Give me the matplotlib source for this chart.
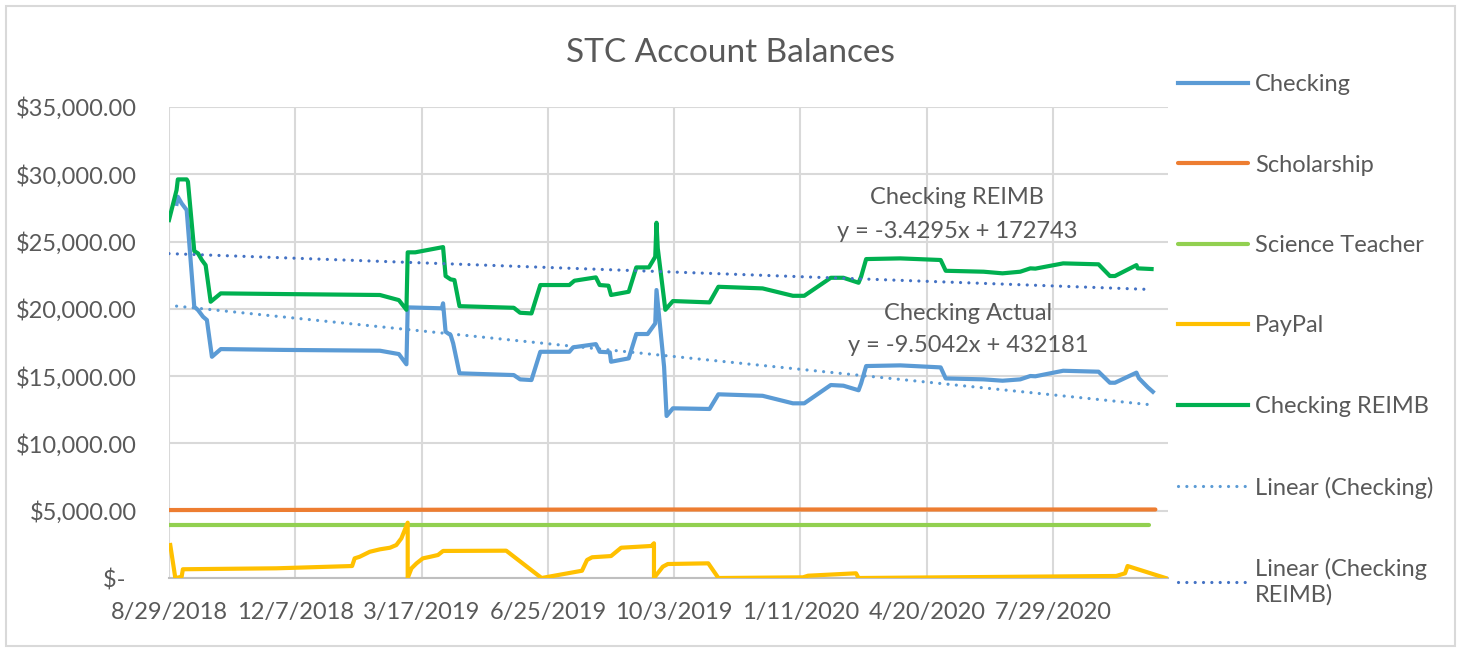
import numpy as np
import pandas as pd
import matplotlib
matplotlib.use('Agg')
import matplotlib.pyplot as plt
from matplotlib.ticker import FixedLocator, FuncFormatter
from matplotlib.patches import Rectangle

plt.rcParams['font.family'] = ['Lato', 'DejaVu Sans']

# Account balances, x = days after the first statement date
start = pd.Timestamp('2018-08-29')

checking_days = [6, 7, 10, 14, 20, 23, 27, 30, 34, 41, 90, 167, 182, 188, 189,
                 216, 217, 219, 223, 225, 230, 273, 278, 287, 294, 317, 320,
                 338, 341, 349, 350, 364, 370, 379, 385, 386, 392, 394, 399,
                 428, 435, 470, 494, 503, 524, 534, 546, 548, 552, 579, 611,
                 615, 645, 660, 674, 682, 686, 708, 736, 745, 749, 766, 768,
                 775, 779]
checking_vals = [27800, 28330, 27840, 27340, 20160, 19910, 19410, 19170, 16440,
                 17010, 16950, 16890, 16640, 15880, 20110, 20040, 20410, 18300,
                 18050, 17440, 15210, 15080, 14760, 14710, 16810, 16810, 17140,
                 17380, 16810, 16770, 16070, 16320, 18130, 18130, 18920, 21400,
                 15700, 12040, 12610, 12560, 13650, 13540, 12980, 12980, 14340,
                 14290, 13950, 14460, 15750, 15800, 15650, 14830, 14760, 14660,
                 14760, 15010, 14990, 15400, 15330, 14510, 14510, 15260, 14840,
                 14170, 13840]

reimb_days = [0, 6, 7, 14, 15, 20, 23, 26, 29, 33, 41, 90, 167, 182, 188, 189,
              195, 217, 219, 223, 226, 230, 273, 278, 287, 294, 317, 321, 338,
              341, 348, 350, 364, 370, 380, 385, 386, 387, 393, 399, 428, 435,
              470, 494, 503, 524, 534, 546, 548, 552, 579, 611, 615, 645, 660,
              674, 682, 686, 708, 736, 745, 749, 766, 767, 778]
reimb_vals = [26600, 28830, 29620, 29620, 29450, 24300, 24120, 23630, 23250,
              20530, 21150, 21100, 21030, 20650, 19930, 24200, 24200, 24590,
              22440, 22190, 22140, 20200, 20080, 19710, 19660, 21770, 21770,
              22090, 22340, 21770, 21720, 21030, 21270, 23080, 23080, 23870,
              26400, 24500, 19930, 20580, 20480, 21640, 21520, 20970, 20970,
              22310, 22310, 21940, 22390, 23700, 23750, 23630, 22830, 22760,
              22640, 22760, 23010, 22990, 23380, 23310, 22440, 22440, 23250,
              23010, 22960]

paypal_days = [1, 5, 8, 10, 11, 85, 145, 147, 151, 159, 167, 175, 180, 184, 189,
               189, 192, 196, 201, 207, 213, 217, 267, 295, 327, 331, 335, 350,
               358, 382, 384, 384, 391, 395, 427, 435, 502, 506, 544, 546, 750,
               757, 759, 789]
paypal_vals = [2450, 0, 50, 100, 650, 720, 890, 1460, 1580, 1950, 2130, 2250,
               2450, 2950, 4110, 0, 720, 1090, 1460, 1580, 1710, 2010, 2030, 0,
               540, 1340, 1540, 1630, 2250, 2380, 2580, 0, 840, 1040, 1090, 0,
               50, 170, 350, 0, 150, 350, 890, 0]

scholarship_days = [0, 389, 781]
scholarship_vals = [5050, 5090, 5090]

teacher_days = [0, 776]
teacher_vals = [3920, 3920]

# Excel linear trendlines (x = Excel serial date)
checking_trend = (-9.5042, 432181)
reimb_trend = (-3.4295, 172743)

y_ticks = [0, 5000, 10000, 15000, 20000, 25000, 30000, 35000]


def to_dates(days):
    return start + pd.to_timedelta(days, unit='D')


def excel_serial(dates):
    return (dates - pd.Timestamp('1899-12-30')).days.values


text_color = '#595959'
grid_color = '#d9d9d9'
fs = 17

fig = plt.figure(figsize=(14.6, 6.52), dpi=100)
ax = fig.add_axes([169 / 1460, 1 - 578 / 652, (1168 - 169) / 1460, (578 - 107) / 652])

lw = 3.0
ax.plot(to_dates(checking_days), checking_vals, color='#5b9bd5', lw=lw,
        label='Checking', solid_joinstyle='round', zorder=3)
ax.plot(to_dates(scholarship_days), scholarship_vals, color='#ed7d31', lw=lw,
        label='Scholarship', solid_capstyle='round', zorder=3)
ax.plot(to_dates(teacher_days), teacher_vals, color='#92d050', lw=lw,
        label='Science Teacher', solid_capstyle='round', zorder=3)
ax.plot(to_dates(paypal_days), paypal_vals, color='#ffc000', lw=lw,
        label='PayPal', solid_joinstyle='round', zorder=3)
ax.plot(to_dates(reimb_days), reimb_vals, color='#00b050', lw=lw,
        label='Checking REIMB', solid_joinstyle='round', zorder=3)

# trendlines over each series' date range
for days, (m, b), color, label in [
        (checking_days, checking_trend, '#5b9bd5', 'Linear (Checking)'),
        (reimb_days, reimb_trend, '#4472c4', 'Linear (Checking\nREIMB)')]:
    d = to_dates([days[0], days[-1] - 3])
    ax.plot(d, m * excel_serial(d) + b, color=color, lw=2.3,
            linestyle=(0, (0.01, 2.6)), dash_capstyle='round', label=label,
            zorder=4)

ax.set_xlim(to_dates([0])[0], to_dates([791])[0])
ax.set_ylim(0, 35000)

x_ticks = to_dates(list(range(0, 791, 100)))
ax.xaxis.set_major_locator(FixedLocator(matplotlib.dates.date2num(x_ticks)))
ax.xaxis.set_major_formatter(FuncFormatter(
    lambda v, pos: '{d.month}/{d.day}/{d.year}'.format(d=matplotlib.dates.num2date(v))))
ax.set_yticks(y_ticks)
ax.yaxis.set_major_formatter(FuncFormatter(
    lambda v, pos: '$-  ' if v == 0 else '${:,.2f}'.format(v)))

ax.grid(True, color=grid_color, lw=1.5)
ax.set_axisbelow(True)
for s in ['top', 'right', 'left']:
    ax.spines[s].set_visible(False)
ax.spines['bottom'].set_color('#bfbfbf')
ax.spines['bottom'].set_linewidth(1.5)
ax.tick_params(axis='both', length=0, labelsize=fs, labelcolor=text_color)
ax.tick_params(axis='x', pad=17)
ax.tick_params(axis='y', pad=23)

fig.text(0.5, 1 - 53 / 652, 'STC Account Balances', ha='center', va='center',
         fontsize=24, color=text_color)

# trendline equation labels
ax.text(957 / 1460, 1 - 198 / 652, 'Checking REIMB', transform=fig.transFigure,
        ha='center', va='center', fontsize=fs, color=text_color)
ax.text(957 / 1460, 1 - 231 / 652, 'y = -3.4295x + 172743', transform=fig.transFigure,
        ha='center', va='center', fontsize=fs, color=text_color)
ax.text(968 / 1460, 1 - 313 / 652, 'Checking Actual', transform=fig.transFigure,
        ha='center', va='center', fontsize=fs, color=text_color)
ax.text(968 / 1460, 1 - 345 / 652, 'y = -9.5042x + 432181', transform=fig.transFigure,
        ha='center', va='center', fontsize=fs, color=text_color)

leg = ax.legend(loc='upper left', bbox_to_anchor=(1178 / 1460, 1 - 74 / 652),
                bbox_transform=fig.transFigure, frameon=False, fontsize=fs,
                handlelength=2.96, handletextpad=0.3, labelspacing=2.52,
                borderpad=0, borderaxespad=0)
for t in leg.get_texts():
    t.set_color(text_color)

fig.add_artist(Rectangle((6 / 1460, 6 / 652), 1449 / 1460, 640 / 652,
                         transform=fig.transFigure, fill=False,
                         edgecolor=grid_color, lw=1.5))

fig.savefig('out.png', dpi=100)
